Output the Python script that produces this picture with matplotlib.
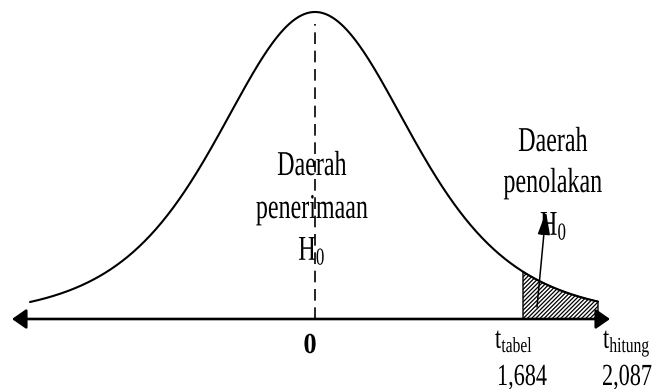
import numpy as np
import matplotlib
matplotlib.use("Agg")
import matplotlib.pyplot as plt
from matplotlib.patheffects import AbstractPathEffect
from matplotlib.transforms import Affine2D

# ---- data ----
dof = 5                      # shape of the drawn t-like density
t_tabel_value = 1.684
t_hitung_value = 2.087
t_tabel_label = "1,684"
t_hitung_label = "2,087"
center_label = "0"
accept_lines = ["Daerah", "penerimaan", "H$_0$"]
reject_lines = ["Daerah", "penolakan", "H$_0$"]

# ---- layout (drawing positions, not values) ----
pos_tabel = 2.08
pos_end = 2.83
pos_start = -2.85

plt.rcParams['font.family'] = ['Liberation Serif', 'DejaVu Serif']
plt.rcParams['mathtext.fontset'] = 'custom'
plt.rcParams['mathtext.rm'] = 'Liberation Serif'
plt.rcParams['mathtext.it'] = 'Liberation Serif:italic'
plt.rcParams['mathtext.bf'] = 'Liberation Serif:bold'
plt.rcParams['hatch.linewidth'] = 0.9
plt.rcParams['hatch.color'] = 'black'


class VStretch(AbstractPathEffect):
    """Stretch glyphs vertically about their baseline (narrow-looking type)."""
    def __init__(self, sy):
        super().__init__()
        self.sy = sy

    def draw_path(self, renderer, gc, tpath, affine, rgbFace=None):
        renderer.draw_path(gc, tpath, Affine2D().scale(1, self.sy) + affine, rgbFace)


def density(x):
    return (1 + x ** 2 / dof) ** (-(dof + 1) / 2)


fig = plt.figure(figsize=(6.52, 3.89), dpi=100)
ax = fig.add_axes([0, 0, 1, 1])
ax.set_xlim(-3.15, 3.37)
ax.set_ylim(-0.228, 1.039)
ax.axis('off')

xs = np.linspace(pos_start, pos_end, 600)
ax.plot(xs, density(xs), color='black', lw=1.5, solid_capstyle='round', zorder=3)

xsh = np.linspace(pos_tabel, pos_end, 200)
ax.fill_between(xsh, 0, density(xsh), facecolor='white', edgecolor='black',
                hatch='////////', lw=1.0, zorder=2)

# center dashed line
ax.plot([0, 0], [0, 0.96], color='black', lw=1.2, dashes=(7, 4), zorder=2)

# horizontal axis with arrow heads
ax.annotate('', xy=(-3.03, 0), xytext=(2.95, 0),
            arrowprops=dict(arrowstyle='<|-|>,head_length=0.86,head_width=0.6',
                            mutation_scale=10, lw=1.9, color='black',
                            shrinkA=0, shrinkB=0), zorder=4)

# small arrow pointing to rejection label
ax.annotate('', xy=(2.31, 0.349), xytext=(2.22, 0.039),
            arrowprops=dict(arrowstyle='-|>,head_length=1.4,head_width=0.38',
                            mutation_scale=10, lw=1.1, color='black',
                            shrinkA=0, shrinkB=0), zorder=5)

big = dict(fontsize=17.3, path_effects=[VStretch(1.45)], va='baseline', color='black')
lab = dict(fontsize=16, path_effects=[VStretch(1.38)], va='baseline', color='black')

def py(p):
    return (319 - p) / 307.0

# acceptance region text
for line, base in zip(accept_lines, [175, 218, 260]):
    ax.text(-0.03, py(base), line, ha='center', **big)

# rejection region text
ax.text(2.38, py(151), reject_lines[0], ha='center', **big)
ax.text(2.38, py(192), reject_lines[1], ha='center', **big)
ax.text(2.25, py(235), reject_lines[2], ha='left', **big)

# axis labels
ax.text(-0.05, py(353), center_label, ha='center', fontsize=19, fontweight='bold',
        path_effects=[VStretch(1.1)], va='baseline')
ax.text(1.80, py(348), r"t$_{\mathrm{tabel}}$", ha='left', **lab)
ax.text(2.07, py(385), t_tabel_label, ha='center', **lab)
ax.text(2.88, py(348), r"t$_{\mathrm{hitung}}$", ha='left', **lab)
ax.text(2.87, py(385), t_hitung_label, ha='left', **lab)

fig.savefig('out.png', dpi=100)
